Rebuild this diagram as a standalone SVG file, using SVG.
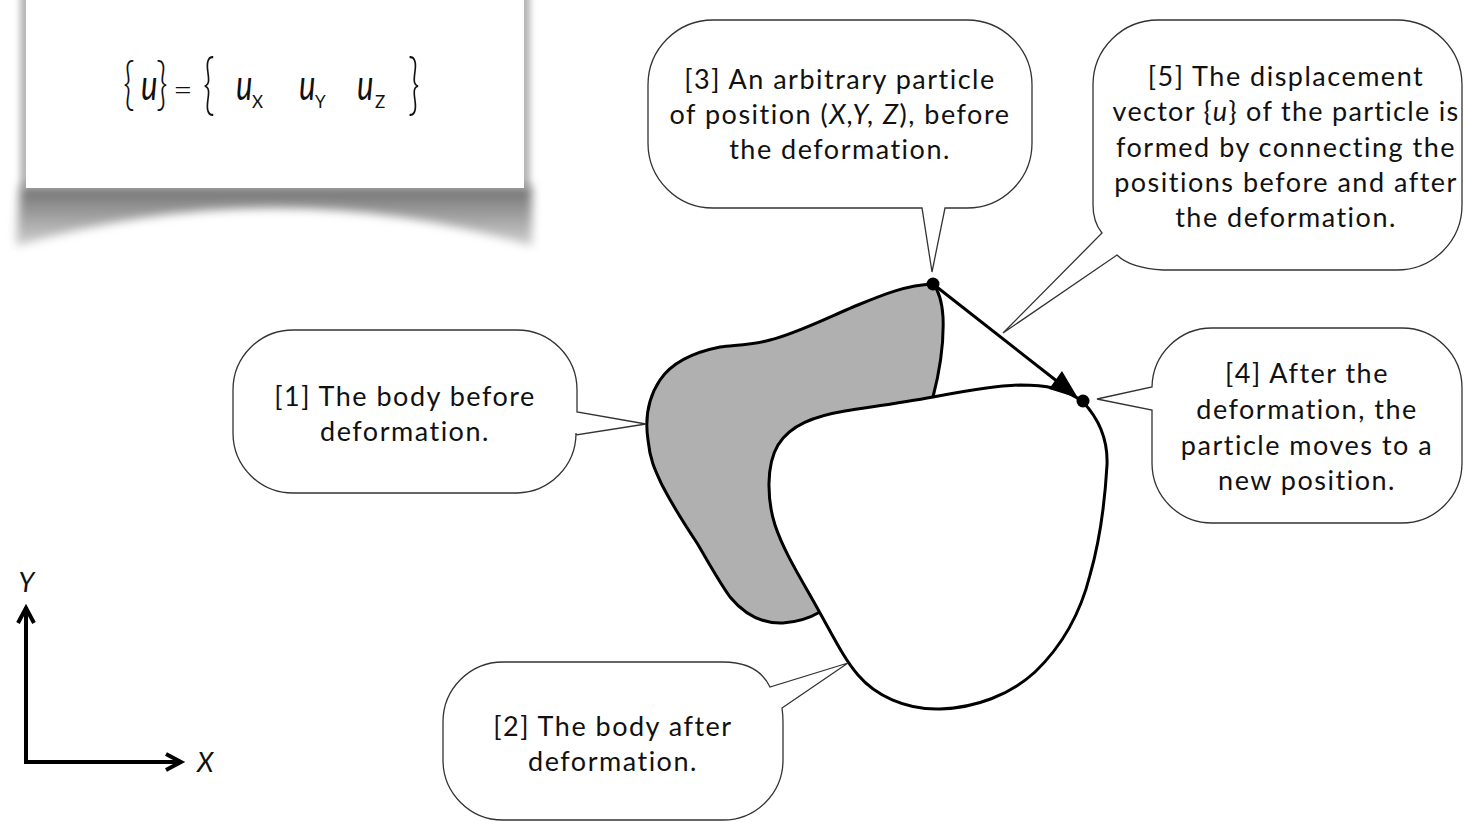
<svg xmlns="http://www.w3.org/2000/svg" width="1464" height="822" viewBox="0 0 1464 822">
<defs>
<style>
.bub{fill:#fff;stroke:#333;stroke-width:1.3}
.t{font-family:Lato,"Open Sans","Liberation Sans",sans-serif;font-size:27px;letter-spacing:1.5px;fill:#111;text-anchor:middle}
.it{font-style:italic}
.body{stroke:#000;stroke-width:3;stroke-linejoin:round}
.ax{stroke:#000;stroke-width:4;fill:none}
.f{font-family:Lato,"Open Sans","Liberation Sans",sans-serif;fill:#111}
.fu{font-size:42px;font-style:italic}
.fs{font-size:17px}
.br{font-size:40px;font-weight:300}
</style>
<filter id="blur" x="-20%" y="-50%" width="140%" height="200%"><feGaussianBlur stdDeviation="5"/></filter>
<filter id="blur2" x="-20%" y="-20%" width="140%" height="140%"><feGaussianBlur stdDeviation="3"/></filter>
<linearGradient id="sg" x1="0" y1="0" x2="0" y2="1">
<stop offset="0" stop-color="#707070"/>
<stop offset="1" stop-color="#d0d0d0"/>
</linearGradient>
</defs>

<g id="card">
<rect x="20" y="-10" width="510" height="198" fill="#b5b5b5" filter="url(#blur2)"/>
<path d="M 20,186 L 532,186 L 532,246 Q 275,170 16,246 Z" fill="url(#sg)" filter="url(#blur)"/>
<rect x="26" y="-10" width="498" height="198" fill="#fff"/>
<g class="f">
<text class="br" transform="translate(123,103) scale(1,1.43)">{</text>
<text class="fu" transform="translate(141,100) scale(0.74,1)">u</text>
<text class="br" transform="translate(156,103) scale(1,1.43)">}</text>
<text x="173" y="101" font-size="34" font-weight="300">=</text>
<text class="br" transform="translate(203,107) scale(1,1.69)">{</text>
<text class="fu" transform="translate(236,100) scale(0.74,1)">u</text>
<text class="fs" x="252" y="108">X</text>
<text class="fu" transform="translate(299,100) scale(0.74,1)">u</text>
<text class="fs" x="315" y="108" font-size="14">Y</text>
<text class="fu" transform="translate(357,100) scale(0.74,1)">u</text>
<text class="fs" x="375" y="108">Z</text>
<text class="br" transform="translate(408,107) scale(1,1.69)">}</text>
</g>
</g>

<g id="axes">
<path class="ax" d="M 26,607 V 762 H 180"/>
<path class="ax" d="M 18,623 L 26,608 L 34,623"/>
<path class="ax" d="M 166,754 L 181,762 L 166,770"/>
<text class="t it" x="27" y="592">Y</text>
<text class="t it" x="206" y="772">X</text>
</g>

<g id="body-before">
<path class="body" fill="#b0b0b0" d="M 933,284 C 905,285 880,296 853,307 C 825,319 795,334 770,340 C 752,345 735,345 720,347 C 695,352 672,362 660,380 C 648,398 645,420 648,440 C 650,460 655,470 662,485 C 675,510 685,525 697,543 C 710,565 718,580 730,597 C 745,615 762,624 783,623 C 798,622 808,619 820,612 L 900,520 L 933,397 C 940,370 944,340 943,317 C 942,300 938,290 933,284 Z"/>
</g>
<g id="body-after">
<path class="body" fill="#fff" d="M 1083,402 C 1065,388 1045,385 1020,385 C 990,386 960,392 933,397 C 900,403 870,407 845,411 C 815,416 790,425 778,445 C 766,465 767,500 775,525 C 785,555 805,585 820,613 C 835,640 845,660 858,675 C 875,695 905,710 940,709 C 975,708 1010,695 1035,672 C 1060,648 1080,615 1090,575 C 1100,540 1105,500 1107,465 C 1108,440 1100,420 1083,402 Z"/>
</g>

<g id="connectors">
<line x1="933" y1="284" x2="1058" y2="382" stroke="#000" stroke-width="3"/>
<polygon points="1078,398 1049,389 1062,371" fill="#000"/>
<circle cx="933" cy="284" r="6.5" fill="#000"/>
<circle cx="1083" cy="401" r="6.5" fill="#000"/>
</g>

<g id="callout3">
<path class="bub" d="M 713,20 H 967 A 65 65 0 0 1 1032,85 V 143 A 65 65 0 0 1 967,208 H 945 L 932,272 L 922,208 H 713 A 65 65 0 0 1 648,143 V 85 A 65 65 0 0 1 713,20 Z"/>
<text class="t" x="840" y="89">[3] An arbitrary particle</text>
<text class="t" x="840" y="124">of position (<tspan class="it">X,Y, Z</tspan>), before</text>
<text class="t" x="840" y="159">the deformation.</text>
</g>

<g id="callout5">
<path class="bub" d="M 1158,20 H 1397 A 65 65 0 0 1 1462,85 V 205 A 65 65 0 0 1 1397,270 H 1163 Q 1130,268 1117,255 L 1003,333 L 1102,233 Q 1093,222 1093,205 V 85 A 65 65 0 0 1 1158,20 Z"/>
<text class="t" x="1286" y="86">[5] The displacement</text>
<text class="t" x="1286" y="121" style="letter-spacing:1.3px">vector {<tspan class="it">u</tspan>} of the particle is</text>
<text class="t" x="1286" y="157">formed by connecting the</text>
<text class="t" x="1286" y="192">positions before and after</text>
<text class="t" x="1286" y="227">the deformation.</text>
</g>

<g id="callout1">
<path class="bub" d="M 293,330 H 517 A 60 60 0 0 1 577,390 V 412 L 646,424 L 576,435 V 433 A 60 60 0 0 1 517,493 H 293 A 60 60 0 0 1 233,433 V 390 A 60 60 0 0 1 293,330 Z"/>
<text class="t" x="405" y="406">[1] The body before</text>
<text class="t" x="405" y="441">deformation.</text>
</g>

<g id="callout4">
<path class="bub" d="M 1212,328 H 1402 A 60 60 0 0 1 1462,388 V 463 A 60 60 0 0 1 1402,523 H 1212 A 60 60 0 0 1 1152,463 V 410 L 1097,399 L 1152,387 A 60 60 0 0 1 1212,328 Z"/>
<text class="t" x="1307" y="383">[4] After the</text>
<text class="t" x="1307" y="419">deformation, the</text>
<text class="t" x="1307" y="455">particle moves to a</text>
<text class="t" x="1307" y="490">new position.</text>
</g>

<g id="callout2">
<path class="bub" d="M 503,662 H 723 Q 758,662 770,687 L 848,663 L 782,708 Q 783,715 783,722 V 760 A 60 60 0 0 1 723,820 H 503 A 60 60 0 0 1 443,760 V 722 A 60 60 0 0 1 503,662 Z"/>
<text class="t" x="613" y="736">[2] The body after</text>
<text class="t" x="613" y="771">deformation.</text>
</g>
</svg>
